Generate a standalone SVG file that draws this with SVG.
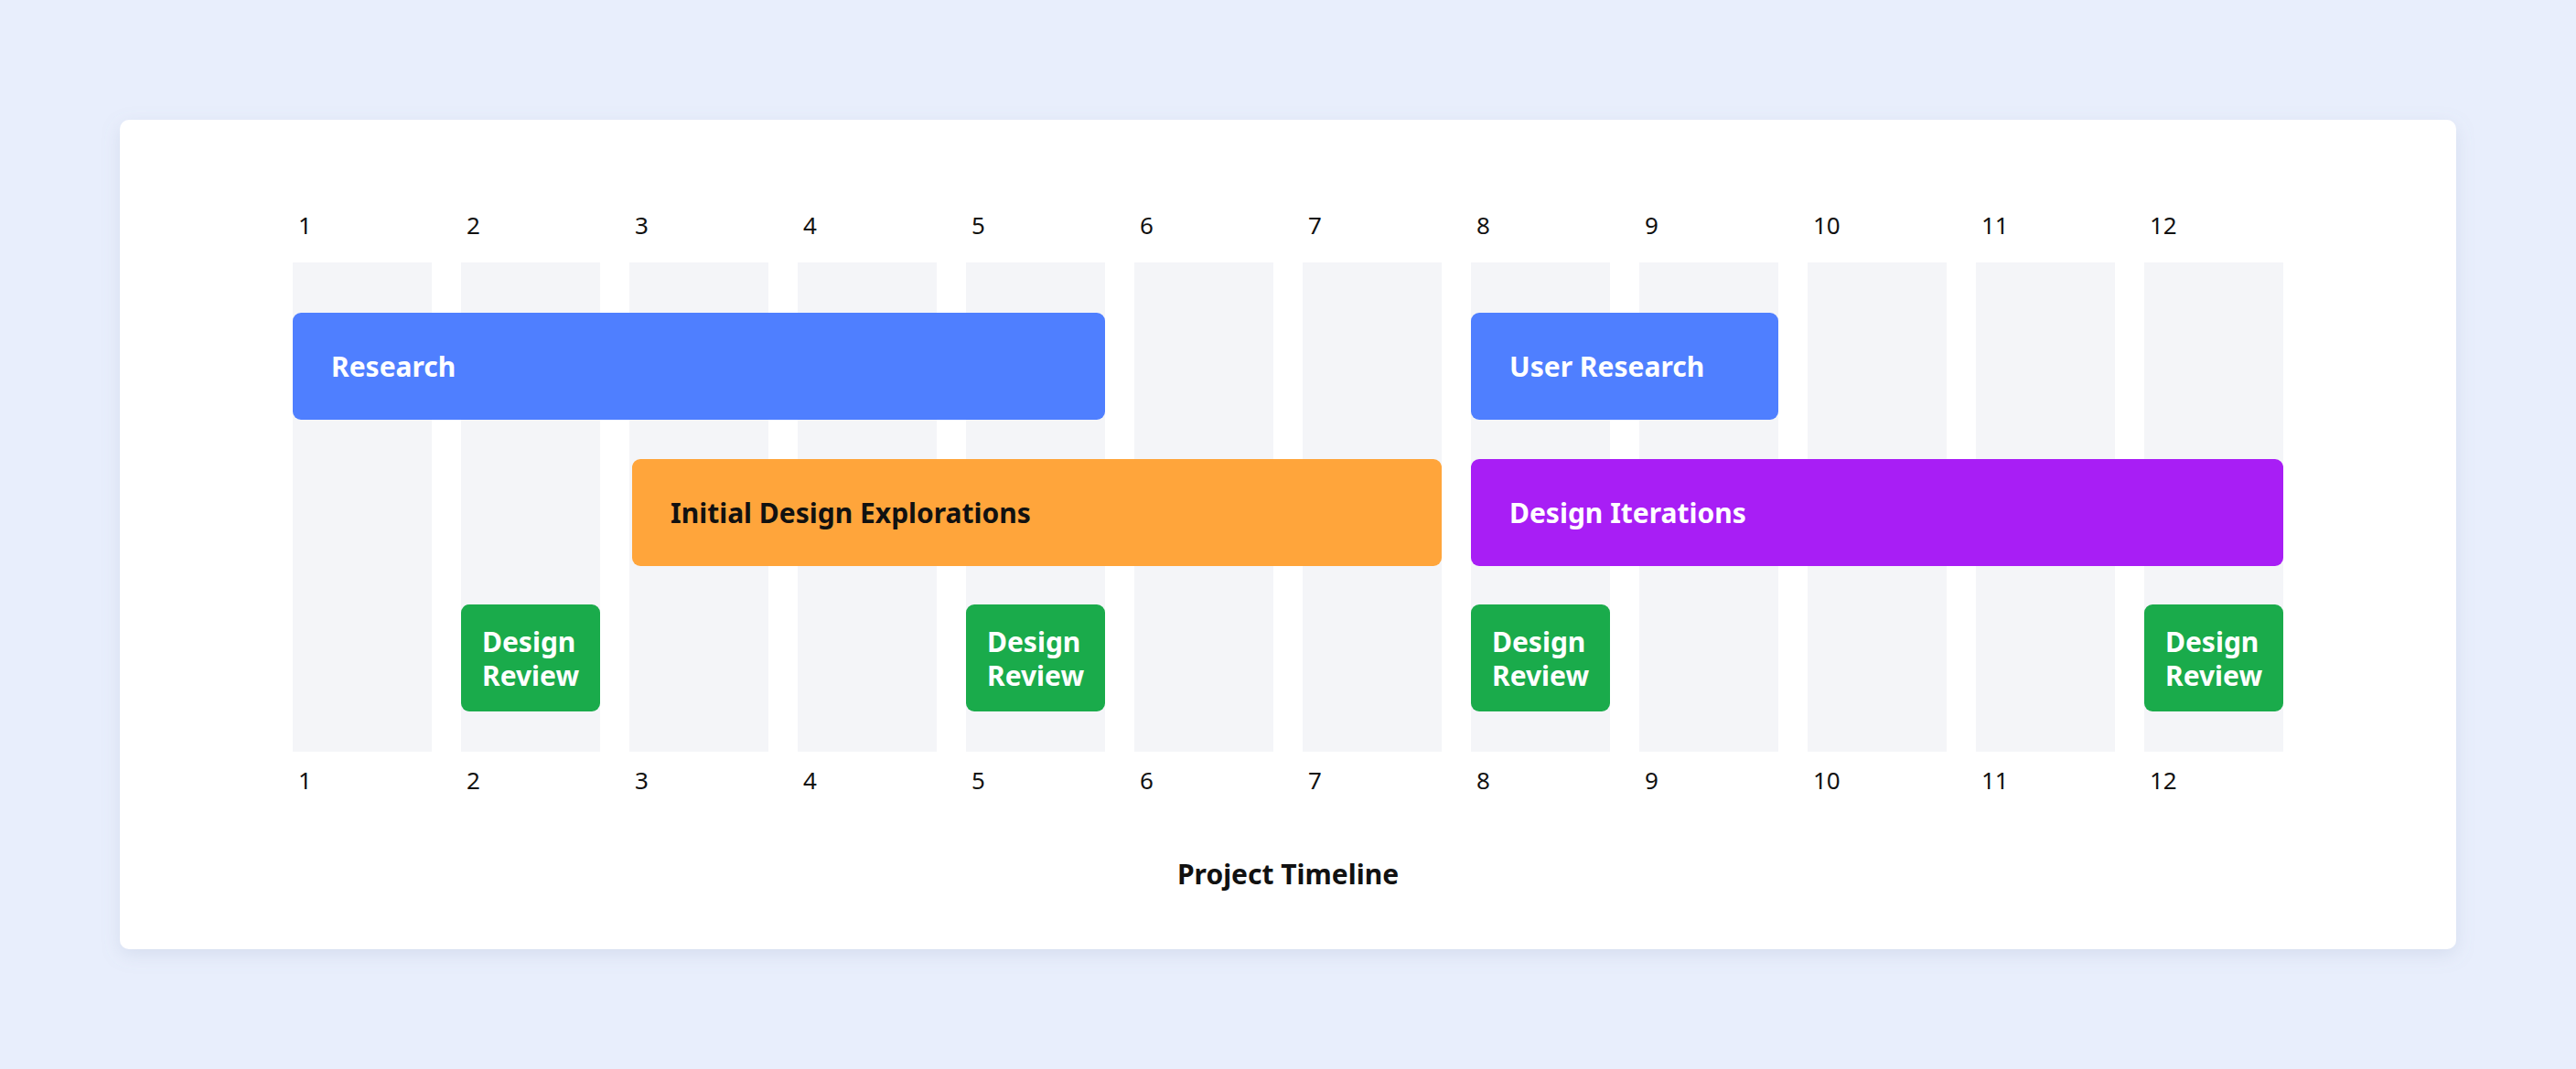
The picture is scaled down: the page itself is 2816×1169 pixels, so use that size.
<svg xmlns="http://www.w3.org/2000/svg" width="2816" height="1169" viewBox="0 0 2816 1169">
<defs>
<style>
.col{fill:#F4F5F8}
.num{font-family:"Noto Sans","Open Sans",sans-serif;font-size:26px;fill:#111}
.lbl{font-family:"Noto Sans","Open Sans",sans-serif;font-size:30px;font-weight:700;fill:#fff}
.dark{fill:#111}
</style>
<filter id="sh" x="-5%" y="-5%" width="110%" height="115%"><feDropShadow dx="0" dy="6" stdDeviation="10" flood-color="#8090b0" flood-opacity="0.18"/></filter>
</defs>
<rect width="2816" height="1169" fill="#E8EEFC"/>
<rect x="131" y="131" width="2554" height="907" rx="10" fill="#fff" filter="url(#sh)"/>
<g id="columns">
<rect class="col" x="320" y="287" width="152" height="535"/>
<rect class="col" x="504" y="287" width="152" height="535"/>
<rect class="col" x="688" y="287" width="152" height="535"/>
<rect class="col" x="872" y="287" width="152" height="535"/>
<rect class="col" x="1056" y="287" width="152" height="535"/>
<rect class="col" x="1240" y="287" width="152" height="535"/>
<rect class="col" x="1424" y="287" width="152" height="535"/>
<rect class="col" x="1608" y="287" width="152" height="535"/>
<rect class="col" x="1792" y="287" width="152" height="535"/>
<rect class="col" x="1976" y="287" width="152" height="535"/>
<rect class="col" x="2160" y="287" width="152" height="535"/>
<rect class="col" x="2344" y="287" width="152" height="535"/>
</g>
<g id="top-numbers" class="num">
<text x="326" y="256">1</text><text x="510" y="256">2</text><text x="694" y="256">3</text><text x="878" y="256">4</text><text x="1062" y="256">5</text><text x="1246" y="256">6</text><text x="1430" y="256">7</text><text x="1614" y="256">8</text><text x="1798" y="256">9</text><text x="1982" y="256">10</text><text x="2166" y="256">11</text><text x="2350" y="256">12</text>
</g>
<g id="bottom-numbers" class="num">
<text x="326" y="863">1</text><text x="510" y="863">2</text><text x="694" y="863">3</text><text x="878" y="863">4</text><text x="1062" y="863">5</text><text x="1246" y="863">6</text><text x="1430" y="863">7</text><text x="1614" y="863">8</text><text x="1798" y="863">9</text><text x="1982" y="863">10</text><text x="2166" y="863">11</text><text x="2350" y="863">12</text>
</g>
<g id="research"><rect x="320" y="342" width="888" height="117" rx="9" fill="#4F7FFF"/><text class="lbl" x="362" y="412">Research</text></g>
<g id="user-research"><rect x="1608" y="342" width="336" height="117" rx="9" fill="#4F7FFF"/><text class="lbl" x="1650" y="412">User Research</text></g>
<g id="initial-design"><rect x="691" y="502" width="885" height="117" rx="9" fill="#FFA53B"/><text class="lbl dark" x="733" y="572">Initial Design Explorations</text></g>
<g id="design-iterations"><rect x="1608" y="502" width="888" height="117" rx="9" fill="#A81EF5"/><text class="lbl" x="1650" y="572">Design Iterations</text></g>
<g id="review-2"><rect x="504" y="661" width="152" height="117" rx="9" fill="#1AAB4B"/><text class="lbl" x="527" y="713">Design</text><text class="lbl" x="527" y="750">Review</text></g>
<g id="review-5"><rect x="1056" y="661" width="152" height="117" rx="9" fill="#1AAB4B"/><text class="lbl" x="1079" y="713">Design</text><text class="lbl" x="1079" y="750">Review</text></g>
<g id="review-8"><rect x="1608" y="661" width="152" height="117" rx="9" fill="#1AAB4B"/><text class="lbl" x="1631" y="713">Design</text><text class="lbl" x="1631" y="750">Review</text></g>
<g id="review-12"><rect x="2344" y="661" width="152" height="117" rx="9" fill="#1AAB4B"/><text class="lbl" x="2367" y="713">Design</text><text class="lbl" x="2367" y="750">Review</text></g>
<g id="connectors"></g>
<text class="lbl dark" x="1408" y="967" text-anchor="middle">Project Timeline</text>
</svg>
